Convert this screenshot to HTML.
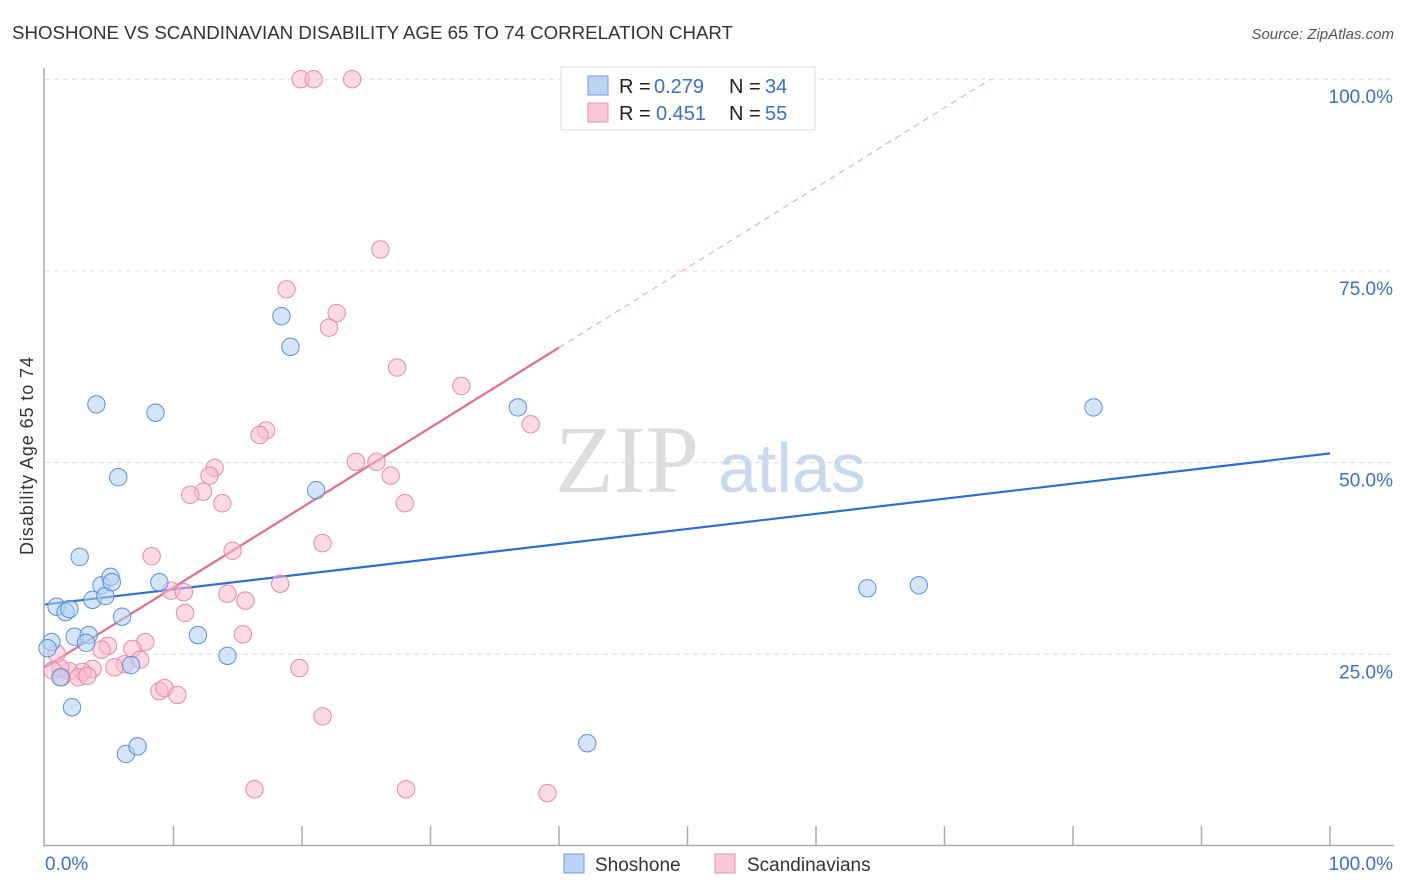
<!DOCTYPE html>
<html><head><meta charset="utf-8"><style>
body{margin:0;background:#fff;font-family:"Liberation Sans",sans-serif}
#c{position:absolute;left:0;top:0}
</style></head><body>
<svg id="c" width="1406" height="892" xmlns="http://www.w3.org/2000/svg">
<text x="12" y="39" font-size="18" fill="#333" textLength="721" lengthAdjust="spacingAndGlyphs">SHOSHONE VS SCANDINAVIAN DISABILITY AGE 65 TO 74 CORRELATION CHART</text>
<text x="1394" y="39" font-size="15" fill="#555" font-style="italic" text-anchor="end">Source: ZipAtlas.com</text>
<text x="33" y="456" font-size="18" fill="#333" text-anchor="middle" textLength="198" transform="rotate(-90 33 456)">Disability Age 65 to 74</text>
<text x="555" y="492" font-size="96" fill="#ddd" font-family="Liberation Serif">ZIP</text>
<text x="718" y="492" font-size="70" fill="#c9d9f0">atlas</text>
<g id="grid"></g><g id="axes"></g><g id="lines"></g><g id="pts"></g>
<g>
<rect x="561" y="67" width="254" height="63" fill="#fff" stroke="#ddd"/>
<rect x="588" y="76" width="20" height="19" fill="#b9d3f5" stroke="#6f9fdc"/>
<rect x="588" y="103" width="20" height="19" fill="#f9c7d6" stroke="#ec8fab"/>
<text x="619" y="93" font-size="20" fill="#222">R =</text><text x="654" y="93" font-size="20" fill="#3a6fd0">0.279</text>
<text x="729" y="93" font-size="20" fill="#222">N =</text><text x="765" y="93" font-size="20" fill="#3a6fd0">34</text>
<text x="619" y="120" font-size="20" fill="#222">R =</text><text x="656" y="120" font-size="20" fill="#3a6fd0">0.451</text>
<text x="729" y="120" font-size="20" fill="#222">N =</text><text x="765" y="120" font-size="20" fill="#3a6fd0">55</text>
</g>
<g>
<rect x="564" y="854" width="20" height="19" fill="#b9d3f5" stroke="#6f9fdc"/>
<text x="595" y="871" font-size="19" fill="#333">Shoshone</text>
<rect x="715" y="854" width="20" height="19" fill="#f9c7d6" stroke="#ec8fab"/>
<text x="747" y="871" font-size="19" fill="#333">Scandinavians</text>
</g>
</svg>
<script>
const yTicks=[25,50,75,100];
const yTickLabels=["25.0%","50.0%","75.0%","100.0%"];
const xTicks=[0,10,20,30,40,50,60,70,80,90,100];
const shoshoneX=[0.5,0.2,0.9,1.6,1.9,1.2,2.1,2.7,2.3,3.4,3.2,3.7,4.4,4.7,5.1,5.2,4.0,5.7,6.0,6.7,6.3,7.2,8.6,8.9,11.9,14.2,18.4,19.1,21.1,36.8,42.2,64.0,68.0,81.6];
const shoshoneY=[26.6,25.8,31.2,30.5,30.9,22.0,18.1,37.7,27.3,27.5,26.5,32.1,34.0,32.6,35.1,34.4,57.6,48.1,29.9,23.6,12.0,13.0,56.5,34.4,27.5,24.8,69.1,65.1,46.4,57.2,13.4,33.6,34.0,57.2];
const scandX=[19.9,20.9,23.9,26.1,18.8,22.7,22.1,27.4,32.4,37.8,17.2,16.7,13.2,12.8,12.3,11.3,13.8,24.2,25.8,26.9,28.0,14.6,21.6,8.3,9.8,10.8,14.2,15.6,10.9,18.3,15.4,7.8,4.9,4.4,6.8,7.4,6.2,5.4,3.7,2.9,1.9,1.2,0.6,0.9,1.3,2.6,3.3,8.9,9.3,10.3,19.8,21.6,16.3,28.1,39.1];
const scandY=[100,100,100,77.8,72.6,69.5,67.6,62.4,60.0,55.0,54.2,53.6,49.3,48.3,46.2,45.8,44.7,50.1,50.1,48.3,44.7,38.5,39.5,37.8,33.3,33.1,32.9,32.0,30.4,34.2,27.6,26.6,26.1,25.6,25.7,24.3,23.7,23.3,23.1,22.7,22.8,23.2,22.9,25.1,22.0,22.0,22.2,20.2,20.6,19.7,23.2,16.9,7.4,7.4,6.9];
const blueLine=[31.5,51.2];
const pinkLine=[23.3,65.0];
const NS="http://www.w3.org/2000/svg";
const X=v=>45+v*12.85, Y=v=>846-v*7.668;
function mk(p,t,a){const e=document.createElementNS(NS,t);for(const k in a)e.setAttribute(k,a[k]);p.appendChild(e);return e;}
const grid=document.getElementById('grid'),axes=document.getElementById('axes');
yTicks.forEach((v,i)=>{
 const l=mk(grid,'line',{x1:45,x2:1394,y1:Y(v),y2:Y(v),stroke:'#ddd','stroke-dasharray':'5,4'});
 
 
 const t=mk(axes,'text',{x:1393,y:Y(v)+24,'font-size':19,fill:'#3a6fd0','text-anchor':'end'});
 t.textContent=yTickLabels[i];
 
 
});
const al=mk(axes,'path',{d:'M44,68V845.5H1394',fill:'none',stroke:'#aaa','stroke-width':1.5});


xTicks.forEach(v=>{if(v===0)return;
 const t=mk(axes,'line',{x1:X(v),x2:X(v),y1:826,y2:845,stroke:'#aaa','stroke-width':1.5});
 
 
});
const x0=mk(axes,'text',{x:45,y:870,'font-size':19,fill:'#3a6fd0'});x0.textContent='0.0%';


const x1=mk(axes,'text',{x:1393,y:870,'font-size':19,fill:'#3a6fd0','text-anchor':'end'});x1.textContent='100.0%';


const pts=document.getElementById('pts');
function dots(xs,ys,f,s,name){xs.forEach((x,i)=>{
 const c=mk(pts,'circle',{cx:X(x),cy:Y(ys[i]),r:8.7,fill:f,'fill-opacity':0.55,stroke:s,'stroke-width':1});
 
 
});}
dots(scandX,scandY,'#f7bccd','#e98aa8','scandinavian-point');
dots(shoshoneX,shoshoneY,'#b3cff3','#5b8fd8','shoshone-point');
const lines=document.getElementById('lines');
const b=mk(lines,'line',{x1:X(0),y1:Y(blueLine[0]),x2:X(100),y2:Y(blueLine[1]),stroke:'#2a6fd6','stroke-width':2.2});


const slope=(pinkLine[1]-pinkLine[0])/40;
const p=mk(lines,'line',{x1:X(0),y1:Y(pinkLine[0]),x2:X(40),y2:Y(pinkLine[1]),stroke:'#e46b96','stroke-width':2.2});


const xe=(100-pinkLine[0])/slope;
const pd=mk(lines,'line',{x1:X(40),y1:Y(pinkLine[1]),x2:X(xe),y2:Y(100),stroke:'#eaa0b8','stroke-width':1,'stroke-dasharray':'6,5'});


</script>
</body></html>
